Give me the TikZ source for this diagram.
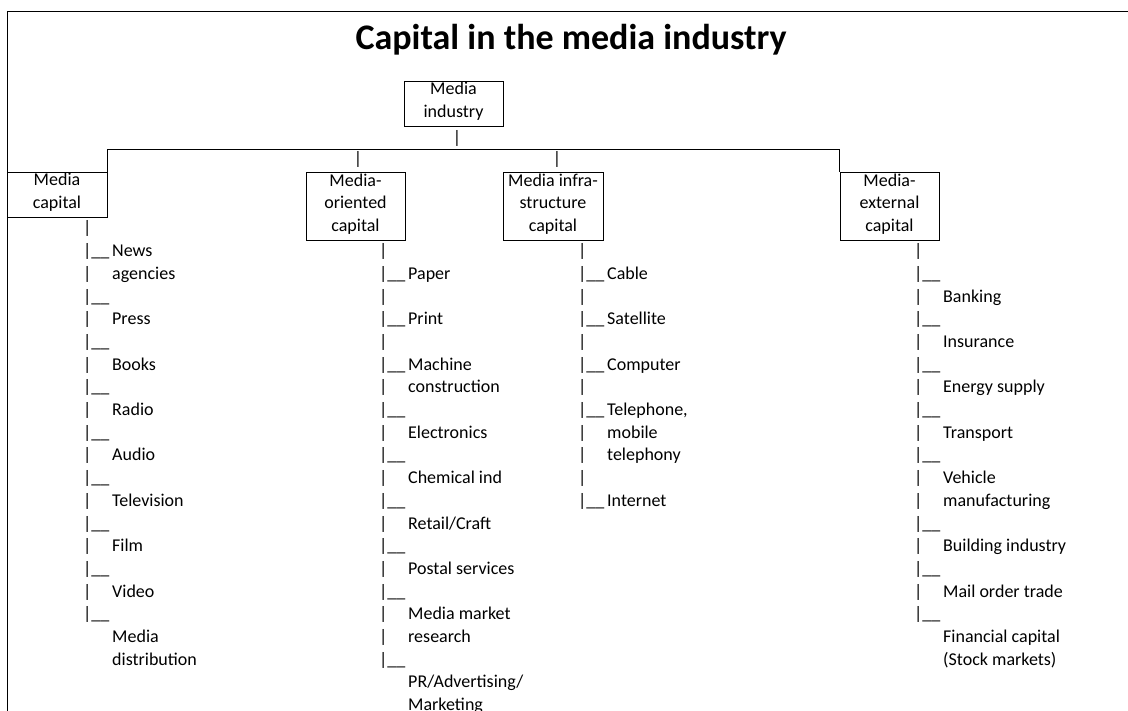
\documentclass[tikz,border=0pt]{standalone}
\usepackage{fontspec}
\setmainfont{Carlito}
\usetikzlibrary{positioning}
\newcommand{\treefont}{\fontsize{18}{22.7}\selectfont}
\newcommand{\headfont}{\fontsize{36}{40}\selectfont\bfseries}

\begin{document}
\begin{tikzpicture}[x=1pt,y=-1pt,
    every node/.style={inner sep=0pt,font=\treefont},
    box/.style={draw,line width=0.9pt,align=center,minimum width=99pt,
      execute at begin node=\strut,execute at end node=\strut},
    twoline/.style={box,minimum height=45pt},
    threeline/.style={box,minimum height=68pt},
    branch/.style={anchor=base west}]
  \useasboundingbox (0,0) rectangle (1128,711);
  % outer frame, runs off the page on the right and at the bottom
  \draw[line width=1pt] (7,711) -- (7,12) -- (1128,12);
  \node[anchor=base,font=\headfont] (title) at (571,50) {Capital in the media industry};

  % boxes
  \node[twoline] (mind) at (453.5,103.5) {Media\\industry};
  \node[twoline,minimum width=100pt] (mcap) at (57,194.5) {Media\\capital};
  \node[threeline] (morient) at (355.5,206) {Media-\\oriented\\capital};
  \node[threeline,minimum width=100pt] (minfra) at (553,206) {Media infra-\\structure\\capital};
  \node[threeline] (mext) at (889.5,206) {Media-\\external\\capital};

  \node[below=4pt of mind,xshift=3.5pt] (bar0) {|};
  \node[above=4pt of morient,xshift=2.5pt] (bar1) {|};
  \node[above=4pt of minfra,xshift=4pt] (bar2) {|};

  \coordinate (bus) at (0,149);
  \draw[line width=0.9pt] (mcap.north east) -- (mcap.north east |- bus)
    -- (mext.north west |- bus) -- (mext.north west);

  % lists
  \node[branch] (capitems) at (83,234) {\begin{tabular}[t]{@{}p{29pt}@{}l@{}}
    | & \\
    |\_\_ & News\\
    | & agencies\\
    |\_\_ & \\
    | & Press\\
    |\_\_ & \\
    | & Books\\
    |\_\_ & \\
    | & Radio\\
    |\_\_ & \\
    | & Audio\\
    |\_\_ & \\
    | & Television\\
    |\_\_ & \\
    | & Film\\
    |\_\_ & \\
    | & Video\\
    |\_\_ & \\
     & Media\\
     & distribution
  \end{tabular}};
  \node[branch] (orientitems) at (379,256.7) {\begin{tabular}[t]{@{}p{29pt}@{}l@{}}
    | & \\
    |\_\_ & Paper\\
    | & \\
    |\_\_ & Print\\
    | & \\
    |\_\_ & Machine\\
    | & construction\\
    |\_\_ & \\
    | & Electronics\\
    |\_\_ & \\
    | & Chemical ind\\
    |\_\_ & \\
    | & Retail/Craft\\
    |\_\_ & \\
    | & Postal services\\
    |\_\_ & \\
    | & Media market\\
    | & research\\
    |\_\_ & \\
     & PR/Advertising/\\
     & Marketing
  \end{tabular}};
  \node[branch] (infraitems) at (578,256.7) {\begin{tabular}[t]{@{}p{29pt}@{}l@{}}
    | & \\
    |\_\_ & Cable\\
    | & \\
    |\_\_ & Satellite\\
    | & \\
    |\_\_ & Computer\\
    | & \\
    |\_\_ & Telephone,\\
    | & mobile\\
    | & telephony\\
    | & \\
    |\_\_ & Internet
  \end{tabular}};
  \node[branch] (extitems) at (914,256.7) {\begin{tabular}[t]{@{}p{29pt}@{}l@{}}
    | & \\
    |\_\_ & \\
    | & Banking\\
    |\_\_ & \\
    | & Insurance\\
    |\_\_ & \\
    | & Energy supply\\
    |\_\_ & \\
    | & Transport\\
    |\_\_ & \\
    | & Vehicle\\
    | & manufacturing\\
    |\_\_ & \\
    | & Building industry\\
    |\_\_ & \\
    | & Mail order trade\\
    |\_\_ & \\
     & Financial capital\\
     & (Stock markets)
  \end{tabular}};
\end{tikzpicture}
\end{document}
